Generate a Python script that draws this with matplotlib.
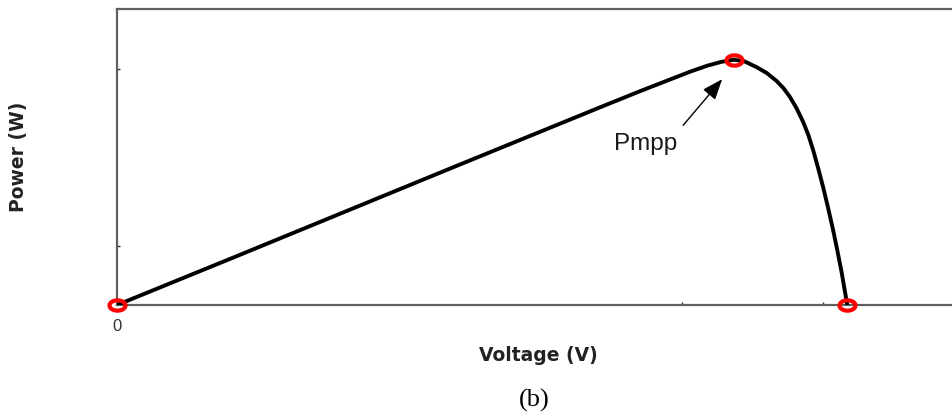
import numpy as np
import matplotlib
matplotlib.use("Agg")
import matplotlib.pyplot as plt
from matplotlib.path import Path

# P-V characteristic of a PV module (voltage in V, power in W)
voltage = [0.0, 4.0, 8.0, 12.0, 17.1, 18.5, 19.6, 20.3, 20.9, 21.4,
           21.84, 22.2, 22.64, 23.0, 23.35, 23.59, 23.82, 24.06, 24.29,
           24.47, 24.65, 24.82, 25.0, 25.18, 25.36, 25.51, 25.65, 25.85]
power = [0.0, 15.6, 31.3, 47.0, 66.9, 72.3, 76.4, 79.0, 81.0, 82.3,
         83.0, 82.5, 80.5, 78.5, 75.8, 73.4, 70.4, 66.5, 61.9,
         57.6, 52.2, 46.3, 39.7, 32.5, 24.9, 17.9, 11.1, 0.0]

# highlighted operating points: short circuit, maximum power point, open circuit
key_v = [0.0, 21.84, 25.85]
key_p = [0.0, 83.0, 0.0]

x_ticks = [0, 20, 25]
x_tick_labels = ["0", "", ""]
y_ticks = [20, 80]

fig = plt.figure(figsize=(9.53, 4.19), dpi=100)
ax = fig.add_axes([117 / 953, 1 - 305 / 419, 847.5 / 953, (305 - 9.5) / 419])

ax.plot(voltage, power, color="black", lw=2.8, solid_joinstyle="round",
        solid_capstyle="round", zorder=3)

# elliptical ring marker
t = np.linspace(0, 2 * np.pi, 60)
ellipse = Path(np.column_stack([1.55 * np.cos(t), np.sin(t)]), closed=True)
ax.plot(key_v, key_p, linestyle="none", marker=ellipse, markersize=11.5,
        markerfacecolor="none", markeredgecolor="#ff0000", markeredgewidth=3.0,
        zorder=4, clip_on=False)

ax.set_xlim(0, 30)
ax.set_ylim(0, 100)

for side in ("left", "top", "bottom"):
    ax.spines[side].set_color("#606060")
    ax.spines[side].set_linewidth(1.6)
ax.spines["right"].set_visible(False)

ax.set_xticks(x_ticks, x_tick_labels)
ax.set_yticks(y_ticks, ["", ""])
ax.tick_params(direction="in", length=2.5, width=1, color="#303030",
               labelsize=12, labelcolor="#333333", pad=10)
for lbl in ax.get_xticklabels():
    lbl.set_fontfamily("Liberation Sans")

# axis titles
fig.text(538 / 953, 1 - 355 / 419, "Voltage (V)", fontsize=13.5,
         fontweight="bold", family="DejaVu Sans", color="#222222",
         ha="center", va="center")
fig.text(19 / 953, 1 - 157 / 419, "Power (W)", fontsize=13.5,
         fontweight="bold", family="DejaVu Sans", color="#222222",
         ha="center", va="center", rotation=90)

# maximum power point annotation
ax.text(18.7, 54.5, "Pmpp", fontsize=17.5, family="Liberation Sans",
        ha="center", va="center", color="#1a1a1a")
ax.annotate("", xy=(21.42, 76.4), xytext=(20.04, 60.8),
            arrowprops=dict(arrowstyle="-|>,head_length=0.9,head_width=0.35",
                            lw=1.0, color="black", mutation_scale=14,
                            shrinkA=0, shrinkB=0))

fig.text(534 / 953, 1 - 400 / 419, "(b)", fontsize=19,
         family="Liberation Serif", ha="center", va="center", color="black")

fig.savefig("out.png", dpi=100)
